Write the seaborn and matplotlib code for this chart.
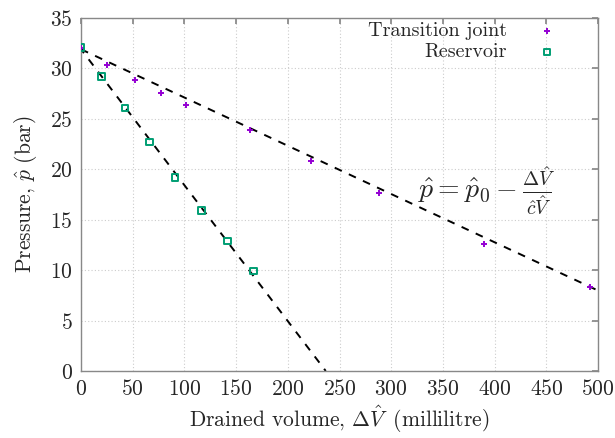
import numpy as np
import pandas as pd
import matplotlib
matplotlib.use("Agg")
import matplotlib.pyplot as plt
import seaborn as sns

# Measured drained volume (ml) and pressure (bar)
tj_volume = [0, 25, 52, 77, 102, 163, 222, 288, 390, 492]
tj_pressure = [32.0, 30.3, 28.9, 27.6, 26.4, 23.9, 20.8, 17.6, 12.6, 8.3]

res_volume = [0, 20, 42.5, 66, 91, 116.5, 141.5, 167]
res_pressure = [32.1, 29.2, 26.1, 22.7, 19.2, 15.9, 12.9, 9.9]

# Linear model p = p0 - dV / (c V)
p0 = 31.9
cV_tj = 20.9
cV_res = 7.42

x_ticks = [0, 50, 100, 150, 200, 250, 300, 350, 400, 450, 500]
y_ticks = [0, 5, 10, 15, 20, 25, 30, 35]

sns.set_theme(style="white")
plt.rcParams["font.family"] = ["cmr10", "DejaVu Serif"]
plt.rcParams["mathtext.fontset"] = "cm"
plt.rcParams["axes.formatter.use_mathtext"] = True

purple = "#9400d3"
green = "#009e73"
fs = 15.5

fig = plt.figure(figsize=(6.15, 4.38), dpi=100)
ax = fig.add_axes([0.1317, 0.153, 0.8407, 0.8059])

tj = pd.DataFrame({"volume": tj_volume, "pressure": tj_pressure})
res = pd.DataFrame({"volume": res_volume, "pressure": res_pressure})

# fitted lines, the reservoir one running down to p = 0
v_tj = np.array([0, 500])
v_res = np.array([0, p0 * cV_res])
fit_tj = pd.DataFrame({"volume": v_tj, "pressure": p0 - v_tj / cV_tj})
fit_res = pd.DataFrame({"volume": v_res, "pressure": p0 - v_res / cV_res})
sns.lineplot(data=fit_tj, x="volume", y="pressure", ax=ax, color="black",
             lw=1.4, dashes=False, linestyle=(0, (4, 4)), zorder=2)
sns.lineplot(data=fit_res, x="volume", y="pressure", ax=ax, color="black",
             lw=1.4, dashes=False, linestyle=(1.5, (4, 4)), zorder=2)

sns.scatterplot(data=tj, x="volume", y="pressure", ax=ax, marker="+",
                color=purple, s=24, linewidth=1.4, zorder=3,
                label="Transition joint")
sns.scatterplot(data=res, x="volume", y="pressure", ax=ax, marker="s",
                facecolor="none", edgecolor=green, s=22, linewidth=1.4,
                zorder=4, label="Reservoir")

ax.set_xlim(0, 500)
ax.set_ylim(0, 35)
ax.set_xticks(x_ticks)
ax.set_yticks(y_ticks)
ax.tick_params(labelsize=fs, direction="in", length=4, color="#888888",
               top=True, right=True, pad=6)
ax.grid(True, linestyle=(0, (1, 2)), color="#cccccc", lw=0.8)
for s in ax.spines.values():
    s.set_color("#888888")
    s.set_linewidth(1.0)

ax.set_xlabel(r"Drained volume, $\Delta\hat{V}\;\;$(millilitre)", fontsize=fs, labelpad=3)
ax.set_ylabel(r"Pressure, $\hat{p}\,\,$(bar)", fontsize=fs, labelpad=8)

ax.text(326, 17.9,
        r"$\hat{p} = \hat{p}_0 - \frac{\Delta\hat{V}}{\hat{c}\hat{V}}$",
        fontsize=20, va="center", ha="left")

ax.legend(loc="upper right", bbox_to_anchor=(0.975, 1.04), frameon=False,
          markerfirst=False, fontsize=14.5, handletextpad=1.0,
          labelspacing=0.15)

fig.savefig("out.png", dpi=100)
